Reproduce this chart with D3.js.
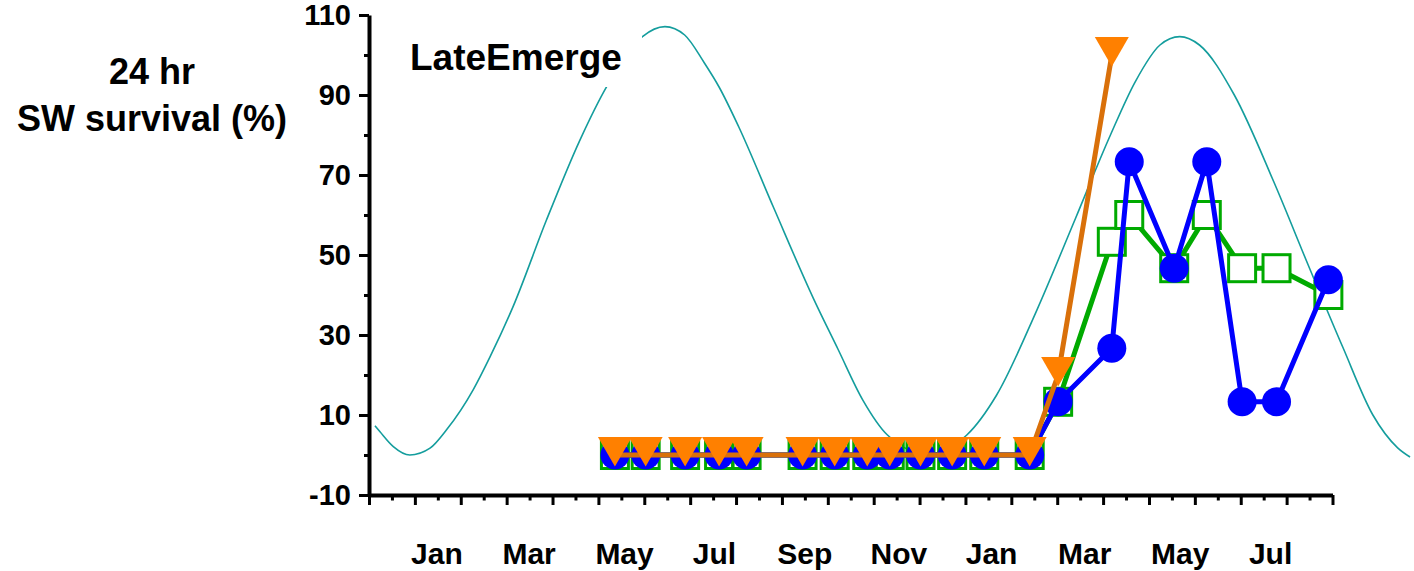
<!DOCTYPE html>
<html>
<head>
<meta charset="utf-8">
<script src="https://cdn.jsdelivr.net/npm/d3@7"></script>
<style>
  html, body { margin: 0; padding: 0; background: #fff; }
  svg { display: block; font-family: "Liberation Sans", Arial, sans-serif; font-weight: bold; }
</style>
</head>
<body>
<svg id="chart" width="1414" height="571"></svg>
<script>
// Horizontal position is counted in months from 1 December of the first season.
const sampleMonth = [5.36, 6.03, 6.89, 7.63, 8.23, 9.45, 10.15, 10.86, 11.35, 12.02, 12.71, 13.41, 14.40,
                     15.02, 16.19, 16.57, 17.55, 18.26, 19.03, 19.78, 20.91];

// 24 hr seawater survival (%) for the three groups
const survivalSquare   = [0, 0, 0, 0, 0, 0, 0, 0, 0, 0, 0, 0, 0, 13.3, 53.3, 60.0, 46.7, 60.0, 46.7, 46.7, 40.0];
const survivalCircle   = [0, 0, 0, 0, 0, 0, 0, 0, 0, 0, 0, 0, 0, 13.3, 26.7, 73.3, 46.7, 73.3, 13.3, 13.3, 43.8];
const survivalTriangle = [0, 0, 0, 0, 0, 0, 0, 0, 0, 0, 0, 0, 0, 20.0, 100.0];

// Seasonal background cycle
const seasonMonth = [0.13, 0.24, 0.53, 0.89, 1.33, 1.69, 2.27, 2.64, 3.14, 3.87, 4.60, 5.18, 5.96, 6.45, 6.88,
                     7.31, 7.63, 8.06, 8.82, 9.68, 10.22, 10.76, 11.30, 12.16, 13.03, 13.68, 14.54, 15.40,
                     16.16, 16.70, 17.24, 17.67, 18.10, 18.86, 19.72, 20.47, 21.23, 21.88, 22.42, 22.69];
const seasonValue = [7.3, 5.8, 2.1, 0.0, 1.7, 6.3, 16.3, 24.6, 37.1, 58.8, 78.8, 92.1, 104.6, 107.1, 105.0,
                     98.0, 92.0, 82.0, 61.8, 39.3, 26.5, 13.8, 5.0, 0.3, 5.0, 15.0, 35.8, 59.2,
                     80.0, 93.3, 102.5, 104.6, 102.5, 90.0, 68.3, 47.5, 26.8, 10.0, 1.8, -0.5];

const monthLabels   = ["Jan", "Mar", "May", "Jul", "Sep", "Nov", "Jan", "Mar", "May", "Jul"];
const monthLabelPos = [1.48, 3.49, 5.57, 7.53, 9.50, 11.55, 13.57, 15.60, 17.68, 19.65];

const yMajorTicks = [-10, 10, 30, 50, 70, 90, 110];
const yMinorTicks = [0, 20, 40, 60, 80, 100];
const xMonthTicks = d3.range(0, 22);
const xHalfTicks  = d3.range(0.5, 21, 1);

const svg = d3.select("#chart");

const x = d3.scaleLinear().domain([0, 21]).range([369, 1332.5]);
const y = d3.scaleLinear().domain([-10, 110]).range([495, 15]);

// seasonal curve, drawn first so everything else sits on top
const seasonLine = d3.line()
  .x((d, i) => x(seasonMonth[i]))
  .y(d => y(d))
  .curve(d3.curveMonotoneX);
svg.append("path")
  .attr("d", seasonLine(seasonValue))
  .attr("fill", "none")
  .attr("stroke", "#149d9d")
  .attr("stroke-width", 1.6);

// panel label on an opaque box
svg.append("rect")
  .attr("x", 398).attr("y", 26).attr("width", 244).attr("height", 61)
  .attr("fill", "#fff");
svg.append("text")
  .attr("x", 410).attr("y", 69.5)
  .attr("font-size", 37)
  .attr("fill", "#000")
  .text("LateEmerge");

// axes
const yAxis = svg.append("g").attr("transform", `translate(${x(0)},0)`)
  .call(d3.axisLeft(y).tickValues(yMajorTicks).tickSize(10).tickSizeOuter(0).tickPadding(8)
        .tickFormat(d => String(d)));
const yMinor = svg.append("g").attr("transform", `translate(${x(0)},0)`)
  .call(d3.axisLeft(y).tickValues(yMinorTicks).tickSize(5).tickSizeOuter(0).tickFormat(""));
yMinor.select(".domain").remove();

const xAxis = svg.append("g").attr("transform", `translate(0,${y(-10)})`)
  .call(d3.axisBottom(x).tickValues(xMonthTicks).tickSize(10).tickSizeOuter(0).tickFormat(""));
const xMinor = svg.append("g").attr("transform", `translate(0,${y(-10)})`)
  .call(d3.axisBottom(x).tickValues(xHalfTicks).tickSize(5.5).tickSizeOuter(0).tickFormat(""));
xMinor.select(".domain").remove();

svg.selectAll(".domain").attr("stroke", "#000").attr("stroke-width", 4);
svg.selectAll(".tick line").attr("stroke", "#000").attr("stroke-width", 3);
yAxis.selectAll(".tick text")
  .attr("font-size", 29).attr("font-family", "Liberation Sans, Arial, sans-serif")
  .attr("font-weight", "bold").attr("fill", "#000");

svg.append("g").selectAll("text")
  .data(monthLabels)
  .join("text")
  .attr("x", (d, i) => x(monthLabelPos[i]))
  .attr("y", 564)
  .attr("text-anchor", "middle")
  .attr("font-size", 30)
  .attr("fill", "#000")
  .text(d => d);

// y axis title
const yTitle = svg.append("text").attr("text-anchor", "middle").attr("font-size", 36).attr("fill", "#000");
yTitle.append("tspan").attr("x", 152).attr("y", 84).text("24 hr");
yTitle.append("tspan").attr("x", 152).attr("y", 131).text("SW survival (%)");

const line = d3.line().x(d => x(d[0])).y(d => y(d[1]));
const pairs = vals => vals.map((v, i) => [sampleMonth[i], v]);

// squares
const sq = pairs(survivalSquare);
svg.append("path").attr("d", line(sq)).attr("fill", "none")
  .attr("stroke", "#00aa00").attr("stroke-width", 5).attr("stroke-linejoin", "round");
svg.append("g").selectAll("rect").data(sq).join("rect")
  .attr("x", d => x(d[0]) - 13.5).attr("y", d => y(d[1]) - 13.5)
  .attr("width", 27).attr("height", 27)
  .attr("fill", "#fff").attr("stroke", "#00aa00").attr("stroke-width", 3);

// circles
const ci = pairs(survivalCircle);
svg.append("path").attr("d", line(ci)).attr("fill", "none")
  .attr("stroke", "#0000ff").attr("stroke-width", 5).attr("stroke-linejoin", "round");
svg.append("g").selectAll("circle").data(ci).join("circle")
  .attr("cx", d => x(d[0])).attr("cy", d => y(d[1])).attr("r", 14.5)
  .attr("fill", "#0000ff");

// downward triangles, anchored a little below their vertical middle
const tr = pairs(survivalTriangle);
svg.append("path").attr("d", line(tr)).attr("fill", "none")
  .attr("stroke", "#d9700a").attr("stroke-width", 5).attr("stroke-linejoin", "round");
svg.append("g").selectAll("path").data(tr).join("path")
  .attr("d", d => {
    const cx = x(d[0]), cy = y(d[1]);
    return `M${cx - 17},${cy - 18}L${cx + 17},${cy - 18}L${cx},${cy + 11.5}Z`;
  })
  .attr("fill", "#ff8000");
</script>
</body>
</html>
